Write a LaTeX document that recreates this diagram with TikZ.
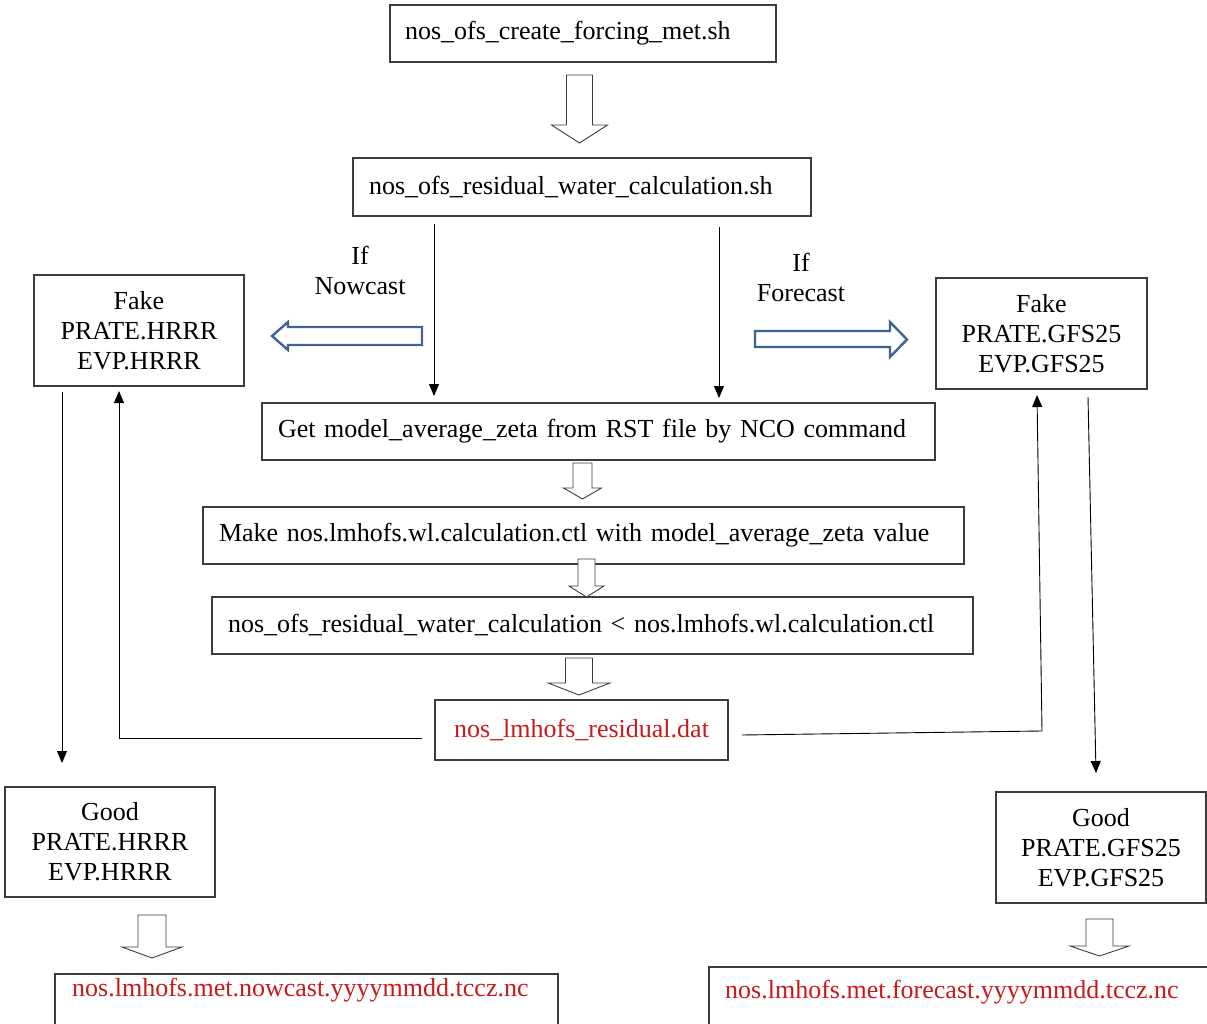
\documentclass[tikz,border=0pt]{standalone}
\usepackage{fontspec}
\setmainfont{Liberation Serif}
\usetikzlibrary{arrows.meta}
\definecolor{boxline}{RGB}{60,60,60}
\definecolor{redtxt}{RGB}{200,25,25}
\definecolor{bluearr}{RGB}{62,100,150}
\newcommand\hollowdown[6]{%
  \draw[hollow] (#1-#5,#2) -- (#1+#5,#2) -- (#1+#5,#3) -- (#1+#6,#3) -- (#1,#4) -- (#1-#6,#3) -- (#1-#5,#3) -- cycle;}
\begin{document}
\begin{tikzpicture}[x=1pt,y=-1pt,
  txt/.style={font=\fontsize{26}{30}\selectfont, inner sep=0pt},
  boxl/.style={txt, draw=boxline, line width=1.1pt, align=left, inner xsep=15pt, inner ysep=0pt},
  boxc/.style={txt, draw=boxline, line width=1.1pt, align=center, inner sep=0pt},
  thin/.style={line width=0.9pt, black, -{Triangle[length=12pt,width=10pt]}},
  hollow/.style={draw=boxline, line width=0.9pt, fill=white, line join=miter},
  bluehollow/.style={draw=bluearr, line width=2.4pt, fill=white, line join=miter}]
\useasboundingbox (0,0) rectangle (1207,1024);
\clip (0,0) rectangle (1207,1024);

% main column boxes
\node[boxl, text width=356pt, minimum height=57pt] (forc) at (583,33.5) {nos\_ofs\_create\_forcing\_met.sh};
\node[boxl, text width=426pt, minimum height=58pt, inner xsep=16pt] (resw) at (582,187) {nos\_ofs\_residual\_water\_calculation.sh};
\node[boxl, text width=641pt, minimum height=57pt, inner xsep=16pt] (getz) at (598.5,431.5) {Get model\_average\_zeta from RST file by NCO command};
\node[boxl, text width=729pt, minimum height=57pt, inner xsep=16pt] (make) at (583.5,535.5) {Make nos.lmhofs.wl.calculation.ctl with model\_average\_zeta value};
\node[boxl, text width=729pt, minimum height=57pt, inner xsep=16pt] (rcalc) at (592.5,625.5) {nos\_ofs\_residual\_water\_calculation \textless{} nos.lmhofs.wl.calculation.ctl};
\node[boxc, minimum width=293pt, minimum height=60pt, text=redtxt] (dat) at (581.5,730) {nos\_lmhofs\_residual.dat};

% side boxes
\node[boxc, minimum width=210pt, minimum height=111pt] (fakeh) at (139,330.5) {Fake\\PRATE.HRRR\\EVP.HRRR};
\node[boxc, minimum width=211pt, minimum height=111pt] (fakeg) at (1041.5,333.5) {Fake\\PRATE.GFS25\\EVP.GFS25};
\node[boxc, minimum width=210pt, minimum height=110pt] (goodh) at (110,842) {Good\\PRATE.HRRR\\EVP.HRRR};
\node[boxc, minimum width=210pt, minimum height=111pt] (goodg) at (1101,847.5) {Good\\PRATE.GFS25\\EVP.GFS25};

% bottom output boxes (cut by the page edge)
\node[draw=boxline, line width=1.1pt, minimum width=503pt, minimum height=100pt, inner sep=0pt] (nowbox) at (306.5,1024) {};
\node[txt, anchor=west, text=redtxt] (nowtxt) at (72,990) {nos.lmhofs.met.nowcast.yyyymmdd.tccz.nc};
\node[draw=boxline, line width=1.1pt, minimum width=600pt, minimum height=100pt, inner sep=0pt] (forbox) at (1009,1017) {};
\node[txt, anchor=west, text=redtxt] (fortxt) at (725,992) {nos.lmhofs.met.forecast.yyyymmdd.tccz.nc};

% labels
\node[txt, align=center] (ifnow) at (360,270) {If\\Nowcast};
\node[txt, align=center] (iffor) at (801,277) {If\\Forecast};

% hollow arrows
\hollowdown{579.5}{75}{125}{143}{13}{28}
\hollowdown{582.5}{463}{488}{499}{9.5}{19}
\hollowdown{586.5}{559}{586}{597}{8.5}{17.5}
\hollowdown{579}{658}{683}{695}{13.5}{31}
\hollowdown{152}{915}{947}{958}{14}{30}
\hollowdown{1099.5}{919}{946}{956}{13.5}{29.5}

% blue hollow arrows
\draw[bluehollow] (422,327) -- (422,345) -- (288,345) -- (288,350) -- (272,336) -- (288,322) -- (288,327) -- cycle;
\draw[bluehollow] (755,331) -- (890,331) -- (890,322) -- (907,339.5) -- (890,357) -- (890,347) -- (755,347) -- cycle;

% thin connectors
\coordinate (a1s) at (434,224); \coordinate (a1e) at (434,396);
\coordinate (a2s) at (719,227); \coordinate (a2e) at (719,398);
\draw[thin] (a1s) -- (a1e);
\draw[thin] (a2s) -- (a2e);
\coordinate (lbs) at (422,738); \coordinate (lbc) at (119,738); \coordinate (lbe) at (119,391);
\draw[thin] (lbs) -- (lbc) -- (lbe);
\coordinate (rbs) at (742,735); \coordinate (rbc) at (1042,731); \coordinate (rbe) at (1037,395);
\draw[thin] (rbs) -- (rbc) -- (rbe);
\coordinate (lds) at (62,392); \coordinate (lde) at (62,763);
\draw[thin] (lds) -- (lde);
\coordinate (rds) at (1088,397); \coordinate (rde) at (1096,773);
\draw[thin] (rds) -- (rde);
\end{tikzpicture}
\end{document}
